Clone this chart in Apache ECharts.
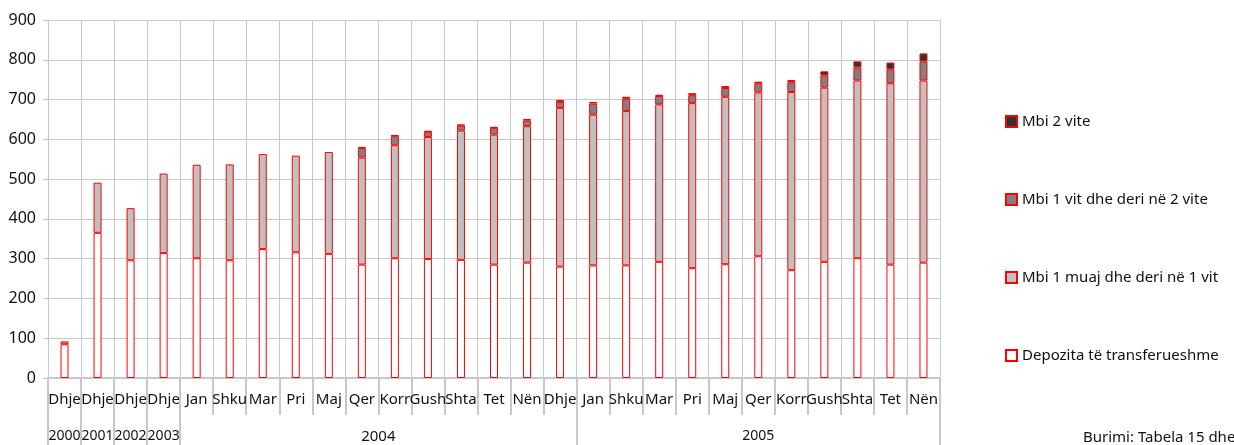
<!DOCTYPE html>
<html>
<head>
<meta charset="utf-8">
<script src="https://cdn.jsdelivr.net/npm/echarts@6/dist/echarts.min.js"></script>
<style>
    html, body { margin: 0; padding: 0; background: #fff; }
    #main { width: 1234px; height: 445px; }
</style>
</head>
<body>
<div id="main"></div>
<script>
// muajt dhe vitet e boshtit x
var months = ['Dhje','Dhje','Dhje','Dhje','Jan','Shku','Mar','Pri','Maj','Qer','Korr','Gush','Shta','Tet','Nën','Dhje',
    'Jan','Shku','Mar','Pri','Maj','Qer','Korr','Gush','Shta','Tet','Nën'];
var years = ['2000','2001','2002','2003',
    '2004','2004','2004','2004','2004','2004','2004','2004','2004','2004','2004','2004',
    '2005','2005','2005','2005','2005','2005','2005','2005','2005','2005','2005'];
var yTicks = [0,100,200,300,400,500,600,700,800,900];

// vlerat e serive
var depozita = [85,365,296,314,301,296,324,316,312,285,301,299,297,285,290,280,283,283,292,276,286,306,271,292,301,285,290];
var muaj1vit = [7,126,131,200,235,241,239,243,256,269,284,307,325,327,343,399,379,388,396,415,421,412,448,438,447,456,458];
var vit1vit2 = [null,null,null,null,null,null,null,null,null,24,23,13,13,17,14,15,28,31,21,20,22,23,24,31,33,35,48];
var mbi2vite = [null,null,null,null,null,null,null,null,null,3,3,2,2,2,4,5,4,5,3,5,5,4,6,10,15,17,20];

var names = ['Depozita të transferueshme','Mbi 1 muaj dhe deri në 1 vit','Mbi 1 vit dhe deri në 2 vite','Mbi 2 vite'];
var fills = ['#ffffff','#c0c0c0','#808080','#333333'];
var values = [depozita, muaj1vit, vit1vit2, mbi2vite];

// ku fillon cdo vit (per vijat ndarese)
var yearStart = [0,1,2,3,4,16];
// ku vendoset etiketa e vitit
var yearLabelAt = {0:'2000',1:'2001',2:'2002',3:'2003',9:'2004',21:'2005'};

var font = 'Noto Sans';
var gridColor = '#c8c8c8';
var txt = '#111';

var series = [];
for (var i = 0; i < names.length; i++) {
    series.push({
        name: names[i],
        type: 'bar',
        stack: 'total',
        barWidth: 8,
        data: values[i],
        itemStyle: { color: fills[i], borderColor: '#ff0000', borderWidth: 1 }
    });
}

var myChart = echarts.init(document.getElementById('main'));
var option = {
    animation: false,
    textStyle: { fontFamily: font },
    grid: { left: 48, right: 294, top: 20, bottom: 67 },
    legend: {
        orient: 'vertical',
        left: 1000,
        top: 109,
        itemWidth: 11,
        itemHeight: 11,
        itemGap: 63,
        icon: 'rect',
        textStyle: { fontFamily: font, fontSize: 15, color: txt },
        data: [names[3], names[2], names[1], names[0]]
    },
    xAxis: [{
        type: 'category',
        data: months,
        axisLine: { lineStyle: { color: gridColor, width: 2 } },
        axisTick: { show: true, length: 37, lineStyle: { color: gridColor, width: 2 } },
        axisLabel: {
            interval: 0, margin: 14, fontFamily: font, fontSize: 15, color: txt,
            showMinLabel: true, hideOverlap: false
        },
        splitLine: { show: true, lineStyle: { color: gridColor, width: 1 } }
    }, {
        type: 'category',
        data: years,
        position: 'bottom',
        axisLine: { show: false },
        axisTick: {
            show: true, length: 70,
            interval: function (index) { return yearStart.indexOf(index) >= 0; },
            lineStyle: { color: gridColor, width: 2 }
        },
        axisLabel: {
            interval: function (index) { return yearLabelAt[index] !== undefined; },
            showMinLabel: true, hideOverlap: false,
            margin: 51,
            fontFamily: font, fontSize: 14, color: txt,
            formatter: function (value, index) {
                if (index === 9) return '{s|' + value + '}';
                return value;
            },
            rich: { s: { padding: [0, 0, 0, 33], fontFamily: font, fontSize: 15, color: txt } }
        }
    }],
    yAxis: {
        type: 'value',
        min: yTicks[0],
        max: yTicks[yTicks.length - 1],
        interval: 100,
        axisLine: { show: true, lineStyle: { color: gridColor } },
        axisTick: { show: true, length: 5, lineStyle: { color: gridColor } },
        axisLabel: { margin: 12, fontFamily: font, fontSize: 16, color: txt },
        splitLine: { show: true, lineStyle: { color: gridColor, width: 1 } }
    },
    graphic: [{
        type: 'text',
        left: 1083,
        top: 430,
        style: { text: 'Burimi: Tabela 15 dhe 16', fontFamily: font, fontSize: 15, fill: txt }
    }],
    series: series
};
myChart.setOption(option);
</script>
</body>
</html>
